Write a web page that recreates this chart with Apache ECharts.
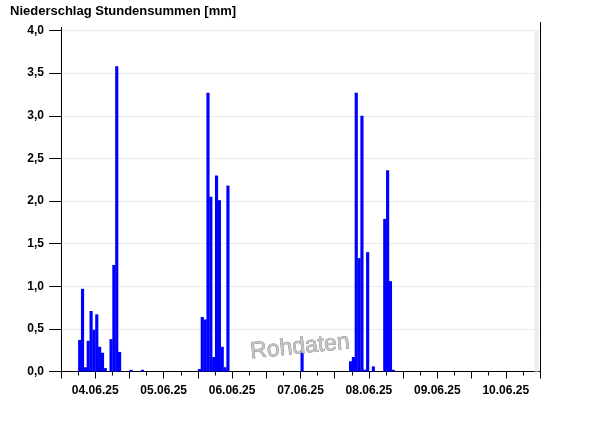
<!DOCTYPE html>
<html>
<head>
<meta charset="utf-8">
<script src="https://cdn.jsdelivr.net/npm/echarts@6/dist/echarts.min.js"></script>
<style>
html,body{margin:0;padding:0;background:#fff;}
#c{width:600px;height:426px;}
</style>
</head>
<body>
<div id="c"></div>
<script>
// Hours counted from 04.06.25 00:00 (each bar covers hour h .. h+1)
const startDay = 4;
const hours = [6,7,8,9,10,11,12,13,14,15,17,18,19,20,24,28,
  48,49,50,51,52,53,54,55,56,57,58,
  84,
  101,102,103,104,105,106,107,109,113,114,115,116];
const values = [0.37,0.97,0.05,0.36,0.71,0.49,0.67,0.29,0.22,0.04,0.38,1.25,3.58,0.23,0.02,0.02,
  0.03,0.64,0.61,3.27,2.05,0.17,2.30,2.01,0.29,0.05,2.18,
  0.25,
  0.12,0.17,3.27,1.33,3.00,0.02,1.40,0.06,1.79,2.36,1.06,0.02];
const yTicks = [0,0.5,1,1.5,2,2.5,3,3.5,4];
const title = 'Niederschlag Stundensummen [mm]';
const watermark = 'Rohdaten';
const greyBand = [166, 168];

const FONT = '"Liberation Sans", Arial, sans-serif';
const data = hours.map((h, i) => [h, h + 1, values[i]]);

const chart = echarts.init(document.getElementById('c'), null, {renderer: 'canvas'});
chart.setOption({
  animation: false,
  backgroundColor: '#ffffff',
  title: {
    text: title, left: 5, top: 0,
    textStyle: {fontFamily: FONT, fontSize: 13, fontWeight: 'bold', color: '#000'}
  },
  grid: {left: 61, right: 60, top: 30.5, bottom: 54.5, containLabel: false},
  xAxis: {
    type: 'value', min: 0, max: 168, interval: 12,
    axisLine: {show: true, onZero: false, lineStyle: {color: '#000', width: 1}},
    axisTick: {show: true, length: 7, lineStyle: {color: '#000'}},
    minorTick: {show: true, splitNumber: 2, length: 4, lineStyle: {color: '#000'}},
    splitLine: {show: false},
    axisLabel: {
      margin: 13, fontFamily: FONT, fontSize: 12, fontWeight: 'bold', color: '#000',
      formatter: function (v) {
        if (v % 24 !== 12) return '';
        const d = startDay + Math.floor(v / 24);
        return (d < 10 ? '0' + d : '' + d) + '.06.25';
      }
    }
  },
  yAxis: {
    type: 'value', min: yTicks[0], max: yTicks[yTicks.length - 1], interval: yTicks[1] - yTicks[0],
    axisLine: {show: true, lineStyle: {color: '#000', width: 1}},
    axisTick: {show: true, length: 12, lineStyle: {color: '#000'}},
    splitLine: {show: true, lineStyle: {color: '#ebebeb', width: 1}},
    axisLabel: {
      margin: 17, fontFamily: FONT, fontSize: 12, fontWeight: 'bold', color: '#000',
      formatter: function (v) { return v.toFixed(1).replace('.', ','); }
    }
  },
  series: [{
    type: 'custom',
    data: data,
    encode: {x: [0, 1], y: 2},
    renderItem: function (params, api) {
      const p0 = api.coord([api.value(0), api.value(2)]);
      const p1 = api.coord([api.value(1), 0]);
      return {
        type: 'rect',
        shape: {x: p0[0], y: p0[1], width: p1[0] - p0[0] + 0.3, height: p1[1] - p0[1]},
        style: {fill: '#0000ff'}
      };
    },
    markArea: {
      silent: true,
      itemStyle: {color: '#eeeeee', opacity: 1, borderWidth: 0},
      data: [[{coord: [greyBand[0], yTicks[0]]}, {coord: [greyBand[1] - 0.4, yTicks[yTicks.length - 1]]}]]
    }
  }],
  graphic: [
    {type: 'line', z: 50, shape: {x1: 540.5, y1: 22, x2: 540.5, y2: 372}, style: {stroke: '#000', lineWidth: 1}},
    {type: 'line', z: 50, shape: {x1: 61.5, y1: 27, x2: 61.5, y2: 31}, style: {stroke: '#000', lineWidth: 1}},
    {
      type: 'text', z: 100, x: 300, y: 347, rotation: 0.1,
      style: {
        text: watermark, fontFamily: FONT, fontSize: 23, fill: '#c4c4c4',
        stroke: '#7a7a7a', lineWidth: 0.7,
        align: 'center', verticalAlign: 'middle',
        shadowColor: 'rgba(120,120,120,0.6)', shadowOffsetX: 1, shadowOffsetY: 1
      }
    }
  ]
});
</script>
</body>
</html>
